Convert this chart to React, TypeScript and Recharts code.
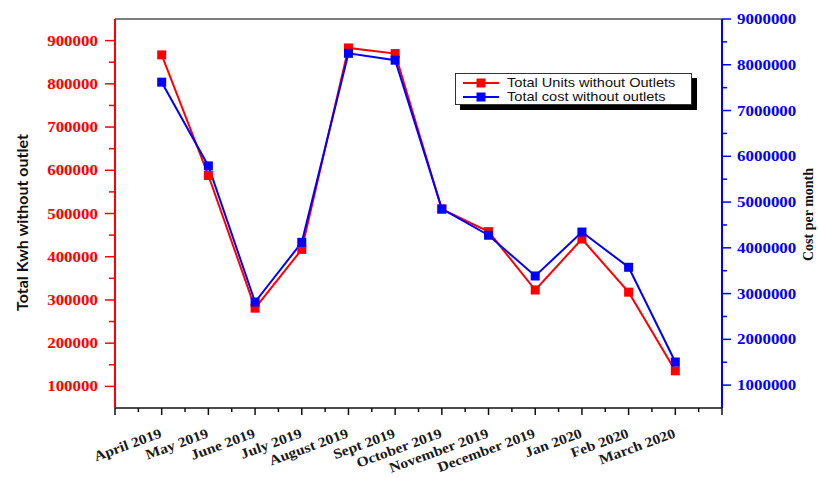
import React from 'react';
import { LineChart, Line, XAxis, YAxis, ReferenceLine } from 'recharts';

const months = [
  'April 2019', 'May 2019', 'June 2019', 'July 2019', 'August 2019', 'Sept 2019',
  'October 2019', 'November 2019', 'December 2019', 'Jan 2020', 'Feb 2020', 'March 2020',
];
const totalUnits = [867000, 588000, 281000, 417000, 883000, 870000, 510000, 458000, 323000, 441000, 318000, 136000];
const totalCost = [7620000, 5790000, 2815000, 4120000, 8250000, 8100000, 4850000, 4275000, 3385000, 4345000, 3575000, 1505000];

const leftTicks = [
  100000, 150000, 200000, 250000, 300000, 350000, 400000, 450000, 500000,
  550000, 600000, 650000, 700000, 750000, 800000, 850000, 900000,
];
const rightTicks = [
  1000000, 1500000, 2000000, 2500000, 3000000, 3500000, 4000000, 4500000, 5000000,
  5500000, 6000000, 6500000, 7000000, 7500000, 8000000, 8500000, 9000000,
];
const xTicks = [0, 0.5, 1, 1.5, 2, 2.5, 3, 3.5, 4, 4.5, 5, 5.5, 6, 6.5, 7, 7.5, 8, 8.5, 9, 9.5, 10, 10.5, 11, 11.5, 12, 12.5, 13];

const data = months.map((m, i) => ({ idx: i + 1, month: m, units: totalUnits[i], cost: totalCost[i] }));

const SERIF = "'Liberation Serif', 'Times New Roman', serif";
const SANS = "'Liberation Sans', Arial, sans-serif";

const XTick = (props: any) => {
  const { x, y, payload } = props;
  const v = payload.value;
  const major = Number.isInteger(v);
  const label = major && v >= 1 && v <= 12 ? months[v - 1] : '';
  return (
    <g>
      <line x1={x} y1={y} x2={x} y2={y + (major ? 7 : 4)} stroke="#111" strokeWidth={1.5} />
      {label ? (
        <text
          transform={`translate(${x + 1},${y + 29}) rotate(-20) scale(1.12,1)`}
          textAnchor="end"
          fontFamily={SERIF}
          fontWeight="bold"
          fontSize={14}
          fill="#1a1a1a"
        >
          {label}
        </text>
      ) : null}
    </g>
  );
};

const LeftTick = (props: any) => {
  const { x, y, payload } = props;
  const v = payload.value;
  const major = v % 100000 === 0;
  return (
    <g>
      <line x1={x} y1={y} x2={x - (major ? 10 : 6)} y2={y} stroke="#ff0000" strokeWidth={1.5} />
      {major ? (
        <text
          transform={`translate(${x - 17},${y + 5}) scale(1.13,1)`}
          textAnchor="end"
          fontFamily={SERIF}
          fontWeight="bold"
          fontSize={15}
          fill="#ff0000"
        >
          {v}
        </text>
      ) : null}
    </g>
  );
};

const RightTick = (props: any) => {
  const { x, y, payload } = props;
  const v = payload.value;
  const major = v % 1000000 === 0;
  return (
    <g>
      <line x1={x} y1={y} x2={x + (major ? 9 : 5)} y2={y} stroke="#0000ff" strokeWidth={1.5} />
      {major ? (
        <text
          transform={`translate(${x + 15},${y + 5}) scale(1.13,1)`}
          textAnchor="start"
          fontFamily={SERIF}
          fontWeight="bold"
          fontSize={15}
          fill="#0000ff"
        >
          {v}
        </text>
      ) : null}
    </g>
  );
};

const square = (color: string) => (p: any) => (
  <rect key={`d-${p.index}`} x={p.cx - 4.5} y={p.cy - 4.5} width={9} height={9} fill={color} />
);

const LegendBox = () => (
  <div
    style={{
      position: 'absolute',
      left: 455,
      top: 73,
      width: 237,
      height: 32,
      border: '1px solid #333',
      background: '#fff',
      boxShadow: '5px 5px 0 #000',
      boxSizing: 'border-box',
    }}
  >
    {[
      { c: '#ff0000', t: 'Total Units without Outlets', y: 8.5 },
      { c: '#0000ff', t: 'Total cost without outlets', y: 22.5 },
    ].map((r) => (
      <React.Fragment key={r.t}>
        <svg style={{ position: 'absolute', left: 7, top: r.y - 6 }} width={36} height={12}>
          <line x1={0} y1={6} x2={36} y2={6} stroke={r.c} strokeWidth={2} />
          <rect x={13.5} y={1.5} width={9} height={9} fill={r.c} />
        </svg>
        <div
          style={{
            position: 'absolute',
            left: 51,
            top: r.y - 6.5,
            fontFamily: SANS,
            fontSize: 13,
            lineHeight: '13px',
            height: 13,
            color: '#111',
            whiteSpace: 'nowrap',
            transform: 'scaleX(1.12)',
            transformOrigin: 'left center',
          }}
        >
          {r.t}
        </div>
      </React.Fragment>
    ))}
  </div>
);

export default function App() {
  return (
    <div style={{ position: 'absolute', left: 0, top: 0, width: 818, height: 478, background: '#fff' }}>
      <LineChart width={818} height={478} data={data} margin={{ top: 19, right: 0, bottom: 0, left: 0 }}>
        <XAxis
          dataKey="idx"
          type="number"
          domain={[0, 13]}
          ticks={xTicks}
          interval={0}
          height={70}
          tickSize={0}
          tickMargin={0}
          tickLine={false}
          axisLine={{ stroke: '#111', strokeWidth: 1.5 }}
          tick={(p: any) => <XTick {...p} />}
        />
        <YAxis
          yAxisId="left"
          orientation="left"
          width={115}
          domain={[50000, 950000]}
          ticks={leftTicks}
          interval={0}
          tickSize={0}
          tickMargin={0}
          tickLine={false}
          axisLine={{ stroke: '#ff0000', strokeWidth: 2 }}
          tick={(p: any) => <LeftTick {...p} />}
          label={(p: any) => {
            const vb = p.viewBox || { x: 0, y: 19, width: 115, height: 389 };
            const cx = vb.x + 21;
            const cy = vb.y + vb.height / 2 + 9;
            return (
              <text
                x={cx}
                y={cy}
                transform={`rotate(-90, ${cx}, ${cy})`}
                textAnchor="middle"
                dominantBaseline="central"
                fontFamily="Lato, 'Open Sans', sans-serif"
                fontWeight="bold"
                fontSize={16}
                fill="#111"
              >
                Total Kwh without outlet
              </text>
            );
          }}
        />
        <YAxis
          yAxisId="right"
          orientation="right"
          width={96}
          domain={[500000, 9000000]}
          ticks={rightTicks}
          interval={0}
          tickSize={0}
          tickMargin={0}
          tickLine={false}
          axisLine={{ stroke: '#0000ff', strokeWidth: 2 }}
          tick={(p: any) => <RightTick {...p} />}
          label={(p: any) => {
            const vb = p.viewBox || { x: 722, y: 19, width: 96, height: 389 };
            const cx = vb.x + 86;
            const cy = vb.y + vb.height / 2 + 1;
            return (
              <text
                x={cx}
                y={cy}
                transform={`rotate(-90, ${cx}, ${cy})`}
                textAnchor="middle"
                dominantBaseline="central"
                fontFamily={SERIF}
                fontWeight="bold"
                fontSize={14}
                fill="#111"
              >
                Cost per month
              </text>
            );
          }}
        />
        <ReferenceLine yAxisId="left" y={950000} stroke="#555" strokeWidth={1.5} />
        <Line
          yAxisId="left"
          dataKey="units"
          stroke="#ff0000"
          strokeWidth={2}
          dot={square('#ff0000')}
          activeDot={false}
          isAnimationActive={false}
        />
        <Line
          yAxisId="right"
          dataKey="cost"
          stroke="#0000ff"
          strokeWidth={2}
          dot={square('#0000ff')}
          activeDot={false}
          isAnimationActive={false}
        />
      </LineChart>
      <LegendBox />
    </div>
  );
}
